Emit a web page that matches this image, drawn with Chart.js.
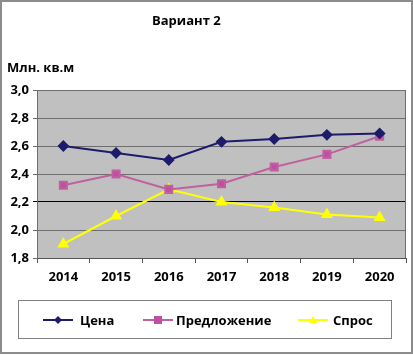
<!DOCTYPE html>
<html>
<head>
<meta charset="utf-8">
<script src="https://cdn.jsdelivr.net/npm/chart.js@4"></script>
<style>
  html, body { margin: 0; padding: 0; background: #fff; }
  #wrap { width: 413px; height: 355px; }
</style>
</head>
<body>
<div id="wrap"><canvas id="chart" width="413" height="355"></canvas></div>
<script>
// data
const years = ['2014', '2015', '2016', '2017', '2018', '2019', '2020'];
const price = [2.60, 2.55, 2.50, 2.63, 2.65, 2.68, 2.69];
const supply = [2.32, 2.40, 2.29, 2.33, 2.45, 2.54, 2.67];
const demand = [1.90, 2.10, 2.29, 2.20, 2.16, 2.11, 2.09];
const seriesNames = ['Цена', 'Предложение', 'Спрос'];

const FONT = "'Open Sans', sans-serif";

// grey plot background, outer frame, titles and the boxed legend
const decor = {
    id: 'decor',
    beforeDraw(chart) {
        const { ctx, chartArea: a } = chart;
        ctx.save();
        ctx.fillStyle = '#fff';
        ctx.fillRect(0, 0, chart.width, chart.height);
        ctx.fillStyle = '#c0c0c0';
        ctx.fillRect(a.left, a.top, a.right - a.left, a.bottom - a.top);
        ctx.restore();
    },
    afterDraw(chart) {
        const { ctx, chartArea: a } = chart;
        ctx.save();
        // right edge of plot
        ctx.strokeStyle = '#6e6e6e';
        ctx.lineWidth = 1;
        ctx.beginPath();
        ctx.moveTo(a.right - 0.5, a.top);
        ctx.lineTo(a.right - 0.5, a.bottom);
        ctx.stroke();

        ctx.strokeStyle = '#8c8c8c';
        ctx.lineWidth = 2;
        ctx.strokeRect(1, 1, chart.width - 2, chart.height - 3);

        ctx.fillStyle = '#000';
        ctx.font = 'bold 13px ' + FONT;
        ctx.textBaseline = 'middle';
        ctx.textAlign = 'left';
        ctx.fillText('Вариант 2', 152, 21);
        ctx.fillText('Млн. кв.м', 7, 68);

        // legend box
        ctx.strokeStyle = '#808080';
        ctx.lineWidth = 1;
        ctx.strokeRect(18.5, 300.5, 373, 38);
        const items = [
            { x: 43, tx: 80 },
            { x: 143, tx: 176 },
            { x: 298, tx: 333 }
        ];
        const y = 320;
        chart.data.datasets.forEach((ds, i) => {
            const it = items[i];
            ctx.strokeStyle = ds.borderColor;
            ctx.lineWidth = 2;
            ctx.beginPath();
            ctx.moveTo(it.x, y);
            ctx.lineTo(it.x + 30, y);
            ctx.stroke();
            ctx.fillStyle = ds.backgroundColor;
            const cx = it.x + 15;
            ctx.beginPath();
            if (ds.pointStyle === 'rectRot') {
                ctx.moveTo(cx, y - 4); ctx.lineTo(cx + 4, y); ctx.lineTo(cx, y + 4); ctx.lineTo(cx - 4, y);
            } else if (ds.pointStyle === 'rect') {
                ctx.rect(cx - 4, y - 4, 8, 8);
            } else {
                ctx.moveTo(cx, y - 4); ctx.lineTo(cx + 4, y + 3); ctx.lineTo(cx - 4, y + 3);
            }
            ctx.closePath();
            ctx.fill();
            ctx.fillStyle = '#000';
            ctx.font = 'bold 13px ' + FONT;
            ctx.fillText(ds.label, it.tx, y + 1);
        });
        ctx.restore();
    }
};

const ctx = document.getElementById('chart').getContext('2d');
new Chart(ctx, {
    type: 'line',
    data: {
        labels: years,
        datasets: [{
            label: seriesNames[0],
            data: price,
            borderColor: '#1c1c6b',
            backgroundColor: '#1c1c6b',
            pointStyle: 'rectRot',
            pointRadius: 4.5,
            borderWidth: 2,
            tension: 0
        }, {
            label: seriesNames[1],
            data: supply,
            borderColor: '#c0609f',
            backgroundColor: '#c04fa4',
            pointStyle: 'rect',
            pointRadius: 5,
            borderWidth: 2,
            tension: 0
        }, {
            label: seriesNames[2],
            data: demand,
            borderColor: '#ffff00',
            backgroundColor: '#ffff00',
            pointStyle: 'triangle',
            pointRadius: 5,
            borderWidth: 2,
            tension: 0
        }]
    },
    options: {
        responsive: false,
        animation: false,
        layout: { padding: { top: 90, right: 0, left: 0, bottom: 0 } },
        plugins: {
            legend: { display: false },
            title: { display: false },
            tooltip: { enabled: false }
        },
        scales: {
            x: {
                offset: true,
                grid: {
                    display: true,
                    drawOnChartArea: false,
                    offset: true,
                    tickLength: 5,
                    color: '#555'
                },
                border: { color: '#555', width: 1 },
                ticks: {
                    color: '#000',
                    padding: 6,
                    font: { family: FONT, size: 13, weight: 'bold' }
                },
                afterFit(scale) { scale.height = 97; }
            },
            y: {
                min: 1.8,
                max: 3.0,
                ticks: {
                    stepSize: 0.2,
                    color: '#000',
                    padding: 4,
                    font: { family: FONT, size: 13, weight: 'bold' },
                    callback: v => v.toFixed(1).replace('.', ',')
                },
                grid: {
                    tickLength: 4,
                    color: c => (Math.abs(c.tick.value - 2.2) < 1e-6 ? '#000' : '#6e6e6e'),
                    lineWidth: 1
                },
                border: { color: '#6e6e6e', width: 1 },
                afterFit(scale) { scale.width = 37; }
            }
        }
    },
    plugins: [decor]
});
</script>
</body>
</html>
